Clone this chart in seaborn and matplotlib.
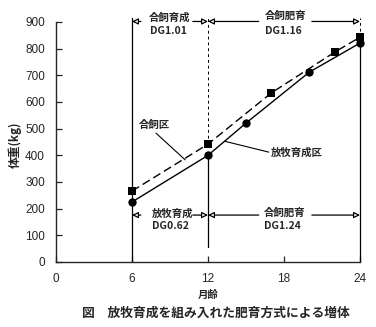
import matplotlib
matplotlib.use("Agg")
import matplotlib.pyplot as plt
import seaborn as sns
import pandas as pd

# ---- data ----
months_grazing = [6, 12, 15, 20, 24]
weight_grazing = [225, 400, 521, 712, 821]
months_conc = [6, 12, 17, 22, 24]
weight_conc = [266, 442, 634, 787, 843]
x_ticks = [0, 6, 12, 18, 24]
y_ticks = [0, 100, 200, 300, 400, 500, 600, 700, 800, 900]

sns.set_style("ticks")
JP = ["Noto Sans CJK JP", "DejaVu Sans"]
plt.rcParams["font.family"] = ["Liberation Sans", "Noto Sans CJK JP", "DejaVu Sans"]

df = pd.concat([
    pd.DataFrame({"month": months_conc, "weight": weight_conc, "group": "合飼区"}),
    pd.DataFrame({"month": months_grazing, "weight": weight_grazing, "group": "放牧育成区"}),
])

fig = plt.figure(figsize=(3.76, 3.27), dpi=100)
ax = fig.add_axes([56/376, 65/327, 304/376, 240/327])

# vertical guide lines
kw = dict(color="black", lw=0.9, clip_on=False, zorder=1)
ax.plot([6, 6], [0, 915], **kw)
ax.plot([12, 12], [442, 915], color="black", lw=0.7, ls=(0, (3, 3)), clip_on=False, zorder=1)
ax.plot([12, 12], [400, 56], **kw)
ax.plot([24, 24], [843, 915], color="black", lw=0.7, ls=(0, (3, 3)), clip_on=False, zorder=1)
ax.plot([24, 24], [821, 0], **kw)

sns.lineplot(data=df, x="month", y="weight", hue="group", style="group",
             palette={"合飼区": "black", "放牧育成区": "black"},
             dashes={"合飼区": (6, 3), "放牧育成区": ""},
             markers={"合飼区": "s", "放牧育成区": "o"},
             markersize=6, markeredgewidth=0, linewidth=1.0,
             legend=False, ax=ax, zorder=3, clip_on=False)

ax.set_xlim(0, 24)
ax.set_ylim(0, 900)
ax.set_xticks(x_ticks)
ax.set_yticks(y_ticks)
ax.tick_params(direction="in", length=4, width=0.9, labelsize=8.5, pad=8)
for s in ["top", "right"]:
    ax.spines[s].set_visible(False)
for s in ["left", "bottom"]:
    ax.spines[s].set_linewidth(1.0)
ax.set_xlabel("")
ax.set_ylabel("")

# arrows
def arrow(tip, tail, y):
    ax.annotate("", xy=(tip, y), xytext=(tail, y),
                arrowprops=dict(arrowstyle="-|>", fc="white", ec="black", lw=0.9,
                                mutation_scale=9, shrinkA=0, shrinkB=0),
                annotation_clip=False)

for y in (902, 176):
    arrow(6, 6.7, y)
    arrow(12, 10.8, y)
    arrow(12, 16.0, y)
    arrow(24, 20.2, y)

tkw = dict(fontsize=7.5, family=JP, fontweight="bold", va="center", ha="left", clip_on=False)
ax.text(7.3, 918, "合飼育成", **tkw)
ax.text(7.45, 868, "DG1.01", **tkw)
ax.text(16.5, 922, "合飼肥育", **tkw)
ax.text(16.5, 868, "DG1.16", **tkw)
ax.text(7.6, 180, "放牧育成", **tkw)
ax.text(7.6, 136, "DG0.62", **tkw)
ax.text(16.4, 183, "合飼肥育", **tkw)
ax.text(16.4, 136, "DG1.24", **tkw)

# series labels with leaders
ax.text(7.8, 515, "合飼区", fontsize=7.5, family=JP, fontweight="bold", ha="center", va="center")
ax.plot([7.9, 10.2], [483, 383], color="black", lw=0.8)
ax.text(17.0, 410, "放牧育成区", fontsize=7.5, family=JP, fontweight="bold", ha="left", va="center")
ax.plot([13.3, 16.8], [453, 412], color="black", lw=0.8)

fig.text(15/376, 1 - 145/327, "体重(kg)", rotation=90, fontsize=8.5, family=JP,
         fontweight="bold", ha="center", va="center")
fig.text(208/376, 1 - 295/327, "月齢", fontsize=7.5, family=JP, fontweight="bold",
         ha="center", va="center")
fig.text(216/376, 1 - 313/327, "図　放牧育成を組み入れた肥育方式による増体", fontsize=9.2,
         family=JP, fontweight="bold", ha="center", va="center")

fig.savefig("out.png", dpi=100)
